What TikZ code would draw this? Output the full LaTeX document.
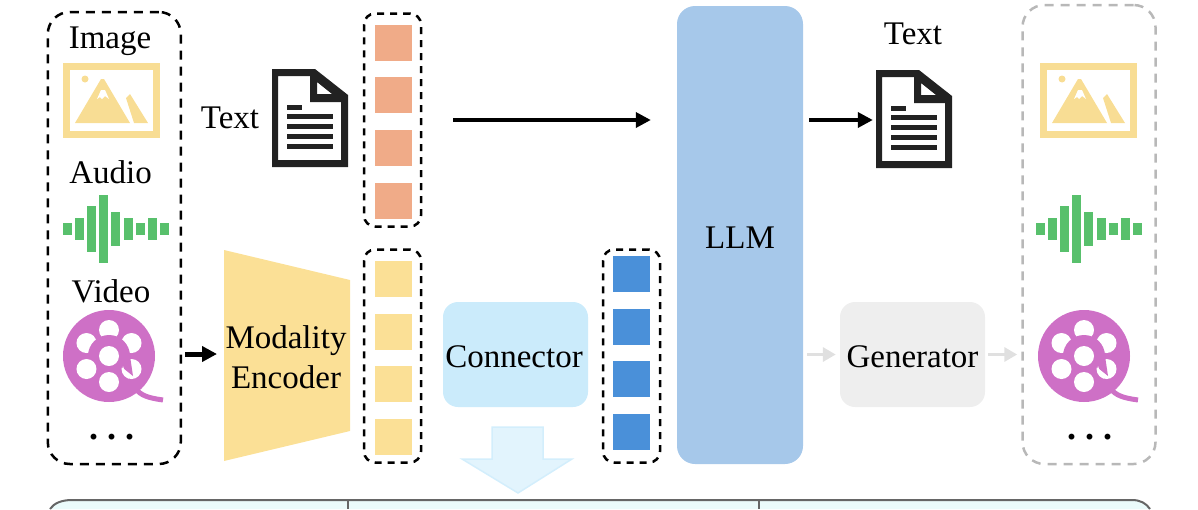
\documentclass[tikz,border=0pt]{standalone}
\usepackage{fontspec}
\setmainfont{Liberation Serif}
\usetikzlibrary{arrows.meta, calc}

\definecolor{imgyellow}{HTML}{F8DD94}
\definecolor{audiogreen}{HTML}{58C06C}
\definecolor{reelpink}{HTML}{CE70C6}
\definecolor{docblack}{HTML}{222222}
\definecolor{tokenorange}{HTML}{F0AB88}
\definecolor{tokenyellow}{HTML}{FBE096}
\definecolor{tokenblue}{HTML}{4A90D9}
\definecolor{llmblue}{HTML}{A6C8EA}
\definecolor{connblue}{HTML}{CBEBFB}
\definecolor{gengray}{HTML}{EEEEEE}
\definecolor{tablecyan}{HTML}{EBFBFB}

\tikzset{
	txt/.style={font=\fontsize{33}{40}\selectfont, inner sep=0pt, anchor=base},
	dotlabel/.style={font=\fontsize{36}{38}\selectfont\bfseries\frenchspacing, inner sep=0pt, anchor=base},
	modalbox/.style={draw=black, line width=2.5pt, dash pattern=on 9pt off 7pt, rounded corners=22pt, inner sep=0pt},
	outbox/.style={modalbox, draw=black!28},
	colbox/.style={draw=black, line width=2.5pt, dash pattern=on 7pt off 6pt, rounded corners=11pt, inner sep=0pt, minimum width=57pt, minimum height=213pt},
	token/.style={minimum width=37pt, minimum height=36pt, inner sep=0pt},
	block/.style={rounded corners=15pt, minimum width=145pt, minimum height=105pt, inner sep=0pt},
	flow/.style={-{Triangle[length=15pt, width=15pt]}, line width=3.5pt, black},
	lightflow/.style={-{Triangle[length=13pt, width=14pt]}, line width=3.5pt, black!12},
	pics/imageicon/.style={code={
		\draw[imgyellow, line width=7pt] (3.5,3.5) rectangle (93.5,71.5);
		\fill[imgyellow] (12,60) -- (38,16) -- (41,16) -- (67,60) -- cycle;
		\fill[imgyellow] (63,35) -- (67,31) -- (85,60) -- (71,60) -- cycle;
		\fill[imgyellow] (22,16) circle (3.5);
		\fill[white] (34,36) -- (38,27) -- (42,27) -- (46,36) -- (42,33) -- (39,36) -- (37,34) -- cycle;
	}},
	pics/waveicon/.style={code={
		\foreach \x/\h in {0/6, 12/11, 24/23, 36/34, 48/17, 61/11, 73/6, 85/11, 97/6}
			\fill[audiogreen] (\x-4.5,-\h) rectangle (\x+4.5,\h);
	}},
	pics/reelicon/.style={code={
		\draw[reelpink, line width=5pt] (26,32) .. controls (32,40) and (40,42) .. (54,44);
		\fill[reelpink] (0,0) circle (46);
		\foreach \a in {30,90,150,210,270,330}
			\fill[white] (\a:26) circle (10);
		\fill[reelpink] (-21,0) arc (180:360:21) -- (24,20) -- (14,12) -- cycle;
		\fill[white] (0,0) circle (10);
		\fill[white] (14,10) .. controls (16,16) and (17,20) .. (20,23) .. controls (14,19) and (12,14) .. (14,10) -- cycle;
	}},
	pics/docicon/.style={code={
		\fill[docblack, even odd rule] (0,0) -- (43,0) -- (76,26) -- (76,98) -- (0,98) -- cycle
			(6,7) -- (6,91) -- (69,91) -- (69,33) -- (38,33) -- (38,7) -- cycle
			(45,13) -- (45,25) -- (60,25) -- cycle;
		\fill[docblack] (15,36) rectangle (30,41);
		\foreach \y in {45,55,65,75}
			\fill[docblack] (15,\y) rectangle (61,\y+5);
	}},
}

\begin{document}
\begin{tikzpicture}[x=1pt, y=-1pt]
	\useasboundingbox (0,0) rectangle (1198,509);

	\node[modalbox, minimum width=133pt, minimum height=452pt] (inputbox) at (114.3,238) {};
	\node[outbox, minimum width=133pt, minimum height=459pt] (outputbox) at (1089,234.5) {};

	\node[txt] (imagelabel) at (110,48) {Image};
	\node[txt] (audiolabel) at (110.5,183) {Audio};
	\node[txt] (videolabel) at (111,302) {Video};
	\node[dotlabel] (indots) at (111.5,439) {. . .};
	\node[dotlabel] (outdots) at (1089.5,439) {. . .};

	\pic at (63,63) {imageicon};
	\pic at (67,229) {waveicon};
	\pic at (109,356) {reelicon};
	\pic at (1040,63) {imageicon};
	\pic at (1040,229) {waveicon};
	\pic at (1084,356) {reelicon};

	\node[txt] (textin) at (230,128) {Text};
	\node[inner sep=0pt, minimum width=76pt, minimum height=98pt] (docin) at (310,118) {};
	\pic at (272,69) {docicon};
	\node[txt] (textout) at (913,44.5) {Text};
	\node[inner sep=0pt, minimum width=76pt, minimum height=98pt] (docout) at (914,120) {};
	\pic at (876,70) {docicon};

	\foreach \i/\y in {1/43, 2/95, 3/148, 4/201}
		\node[token, fill=tokenorange] (orange\i) at (393.5,\y) {};
	\foreach \i/\y in {1/279, 2/332, 3/384, 4/437}
		\node[token, fill=tokenyellow] (yellow\i) at (393.5,\y) {};
	\foreach \i/\y in {1/274, 2/327, 3/379, 4/432}
		\node[token, fill=tokenblue] (blue\i) at (631,\y) {};

	\node[colbox] (orangecol) at (392.5,120) {};
	\node[colbox] (yellowcol) at (392.5,356) {};
	\node[colbox] (bluecol) at (631.5,356) {};

	\fill[tokenyellow] (224,250) -- (350,280) -- (350,431) -- (224,461) -- cycle;
	\coordinate (encoderin) at (224,354);
	\node[txt, anchor=center, align=center] (encoder) at (286,357) {Modality\\Encoder};

	\node[block, fill=connblue] (connectorbox) at (515.5,354.5) {};
	\node[txt] (connector) at (514,367.5) {Connector};
	\node[block, fill=gengray] (generatorbox) at (912.5,354.5) {};
	\node[txt] (generator) at (912.5,367.5) {Generator};
	\node[fill=llmblue, rounded corners=18pt, minimum width=126pt, minimum height=458pt, inner sep=0pt] (llmbox) at (740,235) {};
	\node[txt] (llm) at (740,248) {LLM};

	\draw[flow, shorten <=31pt, shorten >=26pt] (orangecol.east) -- (orangecol.east -| llmbox.west);
	\draw[flow, shorten <=6pt, shorten >=3pt] (llmbox.east |- docout.west) -- (docout.west);
	\draw[flow, line width=5pt, shorten <=3pt, shorten >=7pt] (inputbox.east |- encoderin) -- (encoderin);
	\draw[lightflow, shorten <=4pt, shorten >=4pt] (llmbox.east |- generatorbox.west) -- (generatorbox.west);
	\draw[lightflow, shorten <=3pt, shorten >=4pt] (generatorbox.east) -- (outputbox.west |- generatorbox.east);

	\filldraw[draw=connblue!85, fill=connblue!55, line width=1.5pt] (492,427) -- (543,427) -- (543,459) -- (572,459)
		-- (518,493) -- (462,459) -- (492,459) -- cycle;

	\filldraw[draw=black!60, fill=tablecyan, line width=2pt] (50,509) .. controls (54,503) and (62,500) .. (72,500)
		-- (1132,500) .. controls (1140,500) and (1146,503) .. (1150,509);
	\draw[black!60, line width=2pt] (348,500) -- (348,509);
	\draw[black!60, line width=2pt] (759,500) -- (759,509);
\end{tikzpicture}
\end{document}
